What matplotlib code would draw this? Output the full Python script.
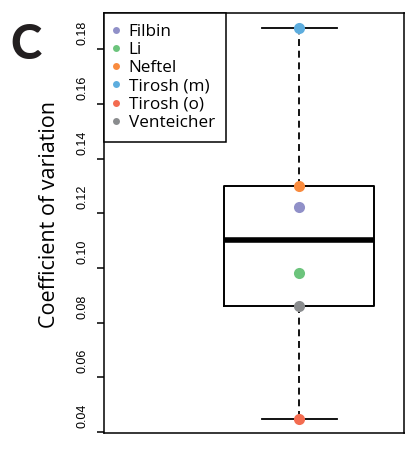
import numpy as np
import matplotlib
matplotlib.use("Agg")
import matplotlib.pyplot as plt
from matplotlib.lines import Line2D
from matplotlib.transforms import ScaledTranslation

# coefficient of variation per dataset
datasets = ['Filbin', 'Li', 'Neftel', 'Tirosh (m)', 'Tirosh (o)', 'Venteicher']
cv = [0.1225, 0.0983, 0.1300, 0.1877, 0.0447, 0.0861]
colors = ['#9090c8', '#6cc47c', '#f98b3e', '#5dadde', '#f36c50', '#8a8c8e']
yticks = [0.04, 0.06, 0.08, 0.10, 0.12, 0.14, 0.16, 0.18]

plt.rcParams['lines.scale_dashes'] = False


def tukey_stats(x):
    # five-number summary with Tukey hinges (as in R boxplot)
    x = np.sort(np.asarray(x))
    n = len(x)
    n4 = np.floor((n + 3) / 2) / 2
    d = np.array([1, n4, (n + 1) / 2, n + 1 - n4, n]) - 1
    fn = 0.5 * (x[np.floor(d).astype(int)] + x[np.ceil(d).astype(int)])
    iqr = fn[3] - fn[1]
    lo = x[x >= fn[1] - 1.5 * iqr].min()
    hi = x[x <= fn[3] + 1.5 * iqr].max()
    return dict(med=fn[2], q1=fn[1], q3=fn[3], whislo=lo, whishi=hi, fliers=[])


fig = plt.figure(figsize=(4.06, 4.5), dpi=100)
ax = fig.add_axes([104 / 406, 1 - 433 / 450, 300.5 / 406, 420.3 / 450])

ax.bxp([tukey_stats(cv)], positions=[1], widths=0.5, capwidths=[0.25],
       showfliers=False,
       boxprops=dict(color='black', linewidth=1.4),
       medianprops=dict(color='black', linewidth=4),
       whiskerprops=dict(color='black', linewidth=1.3, dashes=(5, 3.4)),
       capprops=dict(color='black', linewidth=1.3))

for v, c in zip(cv, colors):
    ax.plot(1, v, 'o', color=c, markersize=8, markeredgewidth=0, zorder=5)

ax.set_xlim(0.35, 1.35)
ax.set_ylim(0.0397, 0.1934)
ax.set_xticks([])
ax.set_yticks(yticks)
ax.set_yticklabels(['%.2f' % t for t in yticks], fontsize=9,
                   family='Liberation Sans')
ax.tick_params(axis='y', length=5, width=1.1, pad=6)
off = ScaledTranslation(0, 3 / 72, fig.dpi_scale_trans)
for lab in ax.get_yticklabels():
    lab.set_rotation(90)
    lab.set_va('bottom')
    lab.set_transform(lab.get_transform() + off)
for s in ax.spines.values():
    s.set_linewidth(1.1)

handles = [Line2D([], [], marker='o', linestyle='', color=c, markersize=5,
                  markeredgewidth=0) for c in colors]
leg = ax.legend(handles, datasets, loc='upper left', borderaxespad=0,
                fancybox=False, framealpha=1, edgecolor='black',
                prop=dict(family='Open Sans', size=12.3),
                handlelength=0.1, handletextpad=0.7, labelspacing=0.13,
                borderpad=0.65)
leg.get_frame().set_linewidth(1.1)

fig.text(50 / 406, 1 - 214 / 450, 'Coefficient of variation', rotation=90,
         ha='center', va='center', family='Open Sans', fontsize=15.5)
fig.text(10 / 406, 1 - 59 / 450, 'C', ha='left', va='baseline',
         family='Lato', fontweight='black', fontsize=34, color='#231f20')

fig.savefig('out.png', dpi=100)
